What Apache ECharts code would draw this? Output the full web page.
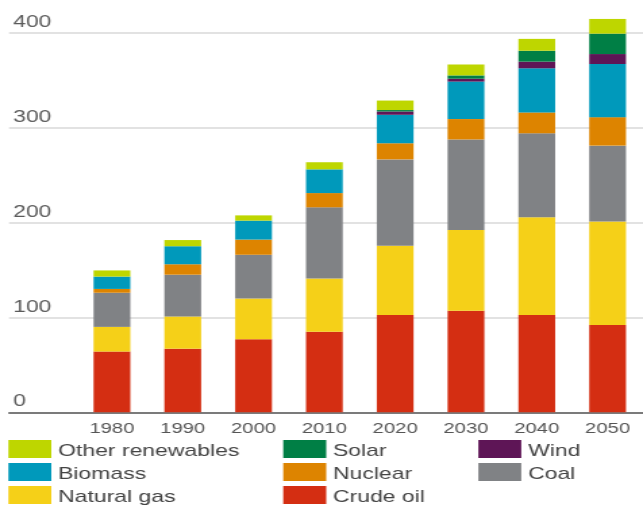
<!DOCTYPE html>
<html>
<head>
<meta charset="utf-8">
<script src="https://cdn.jsdelivr.net/npm/echarts@6/dist/echarts.min.js"></script>
<style>
  html, body { margin: 0; padding: 0; overflow: hidden; background: #fff; }
  #wrap { width: 476px; height: 508px; transform: scaleX(1.3508); transform-origin: 0 0; }
</style>
</head>
<body>
<div id="wrap"></div>
<script>
const years = ['1980', '1990', '2000', '2010', '2020', '2030', '2040', '2050'];
const crudeOil = [64, 67, 77, 85, 102.5, 107, 102.5, 92];
const naturalGas = [26, 34, 43, 56, 73, 85, 103, 109];
const coal = [36, 44, 46, 75, 91, 95.5, 88.5, 80];
const nuclear = [4, 11, 16, 15, 17, 21.5, 22, 30];
const biomass = [13, 19, 20, 25, 30, 39.5, 46.5, 56];
const wind = [0, 0, 0, 0, 3.5, 3, 7, 10.5];
const solar = [0, 0, 0, 0, 1.5, 3.5, 11.5, 21.5];
const otherRenewables = [6.5, 6.5, 5.5, 7.5, 10, 11.5, 12.5, 15.5];
const yTicks = { min: 0, max: 400, interval: 100 };

const seriesDefs = [
  { name: 'Crude oil', data: crudeOil, color: '#d42e12' },
  { name: 'Natural gas', data: naturalGas, color: '#f5d018' },
  { name: 'Coal', data: coal, color: '#808285' },
  { name: 'Nuclear', data: nuclear, color: '#dd8400' },
  { name: 'Biomass', data: biomass, color: '#0099bb' },
  { name: 'Wind', data: wind, color: '#5e1556' },
  { name: 'Solar', data: solar, color: '#007f45' },
  { name: 'Other renewables', data: otherRenewables, color: '#bed600' }
];

const FONT = '"Liberation Sans", Arial, sans-serif';
const chart = echarts.init(document.getElementById('wrap'), null, { renderer: 'canvas' });

const legendCommon = {
  orient: 'vertical',
  top: 438.5,
  height: 69,
  icon: 'rect',
  itemWidth: 31.8,
  itemHeight: 18,
  itemGap: 2,
  padding: 0,
  selectedMode: false,
  formatter: '{t|{name}}',
  textStyle: {
    fontFamily: FONT, fontSize: 17, color: '#444',
    rich: { t: { fontFamily: FONT, fontSize: 17, lineHeight: 17, color: '#444', padding: [4, 0, 0, 0] } }
  }
};

chart.setOption({
  animation: false,
  backgroundColor: '#fff',
  grid: [
    { left: 6.7, right: 0, top: 32.7, bottom: 95.7 },
    { left: 56.65, width: 423.86, top: 32.7, bottom: 95.7 }
  ],
  xAxis: [
    {
      gridIndex: 0, type: 'value', min: 0, max: 1,
      axisLine: { show: true, lineStyle: { color: '#5a5a5a', width: 1.6 } },
      axisTick: { show: false }, axisLabel: { show: false }, splitLine: { show: false }
    },
    {
      gridIndex: 1, type: 'category', data: years,
      axisLine: { show: false }, axisTick: { show: false },
      axisLabel: { fontFamily: FONT, fontSize: 15, color: '#555', margin: 9 }
    }
  ],
  yAxis: [
    {
      gridIndex: 0, type: 'value', min: yTicks.min, max: yTicks.max, interval: yTicks.interval,
      axisLine: { show: false }, axisTick: { show: false },
      splitLine: { show: true, lineStyle: { color: '#e2e2e2', width: 2 } },
      axisLabel: {
        inside: true, margin: 3, align: 'left', verticalAlign: 'bottom',
        fontFamily: FONT, fontSize: 17, color: '#5a5a5a', lineHeight: 17, padding: [0, 0, 2, 0]
      }
    },
    { gridIndex: 1, type: 'value', min: yTicks.min, max: yTicks.max, show: false }
  ],
  legend: [
    Object.assign({ left: 6.2, data: ['Other renewables', 'Biomass', 'Natural gas'] }, legendCommon),
    Object.assign({ left: 209.7, data: ['Solar', 'Nuclear', 'Crude oil'] }, legendCommon),
    Object.assign({ left: 354.1, data: ['Wind', 'Coal'] }, legendCommon)
  ],
  series: seriesDefs.map(s => ({
    name: s.name,
    type: 'bar',
    stack: 'total',
    xAxisIndex: 1,
    yAxisIndex: 1,
    barWidth: 27.2,
    clip: false,
    itemStyle: { color: s.color },
    emphasis: { disabled: true },
    data: s.data
  }))
});
</script>
</body>
</html>
